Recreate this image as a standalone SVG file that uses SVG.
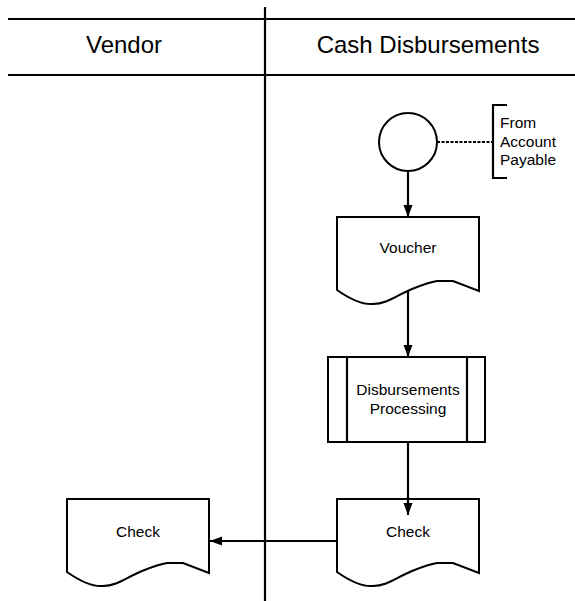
<svg xmlns="http://www.w3.org/2000/svg" width="575" height="601" viewBox="0 0 575 601">
<style>
.ln{stroke:#000;stroke-width:2.2;fill:none}
.sh{stroke:#000;stroke-width:2;fill:#fff}
.hd{font-family:"Liberation Sans",Arial,sans-serif;font-size:24px;fill:#000;text-anchor:middle}
.tx{font-family:"Liberation Sans",Arial,sans-serif;font-size:15.5px;fill:#000;text-anchor:middle}
.lb{font-family:"Liberation Sans",Arial,sans-serif;font-size:15.5px;fill:#000}
</style>
<defs>
<marker id="ah" markerUnits="userSpaceOnUse" markerWidth="13" markerHeight="10" refX="12" refY="4.5" orient="auto">
<path d="M0,0 L12,4.5 L0,9 z" fill="#000"/>
</marker>
<path id="doc" d="M0,0 H142 V74 L116,64 L100,64 C93,65 85,68 75,72 C60,78 50,87 36,87 C25,88 10,80 0,73 Z"/>
</defs>
<g id="lanes">
<line class="ln" x1="8" y1="19" x2="575" y2="19" stroke-width="2.5"/>
<line class="ln" x1="8" y1="75" x2="575" y2="75" stroke-width="2.5"/>
<line class="ln" x1="265" y1="7" x2="265" y2="601" stroke-width="2"/>
<text class="hd" x="124" y="53">Vendor</text>
<text class="hd" x="428" y="53">Cash Disbursements</text>
</g>
<g id="start">
<circle class="sh" cx="408" cy="142" r="29"/>
</g>
<g id="annotation">
<path class="ln" d="M507,105 L493,105 L493,178 L507,178" stroke-width="2"/>
<text class="lb" x="500" y="128">From</text>
<text class="lb" x="500" y="147">Account</text>
<text class="lb" x="500" y="165">Payable</text>
</g>
<g id="voucher">
<use href="#doc" class="sh" x="337" y="217"/>
<text class="tx" x="408" y="253">Voucher</text>
</g>
<g id="processing">
<rect class="sh" x="328" y="357" width="157" height="85"/>
<line class="ln" x1="347" y1="357" x2="347" y2="442" stroke-width="2"/>
<line class="ln" x1="467" y1="357" x2="467" y2="442" stroke-width="2"/>
<text class="tx" x="408" y="395">Disbursements</text>
<text class="tx" x="408" y="414">Processing</text>
</g>
<g id="check-cd">
<use href="#doc" class="sh" x="337" y="499"/>
<text class="tx" x="408" y="537">Check</text>
</g>
<g id="check-vendor">
<use href="#doc" class="sh" x="67" y="499"/>
<text class="tx" x="138" y="537">Check</text>
</g>
<g id="connectors">
<line class="ln" x1="437" y1="142" x2="493" y2="142" stroke-width="1.5" stroke-dasharray="3,1.5"/>
<line class="ln" x1="408" y1="171" x2="408" y2="217" stroke-width="2" marker-end="url(#ah)"/>
<line class="ln" x1="408" y1="291" x2="408" y2="357" stroke-width="2" marker-end="url(#ah)"/>
<line class="ln" x1="408" y1="442" x2="408" y2="515" stroke-width="2" marker-end="url(#ah)"/>
<line class="ln" x1="337" y1="541" x2="210" y2="541" stroke-width="2" marker-end="url(#ah)"/>
</g>
</svg>
